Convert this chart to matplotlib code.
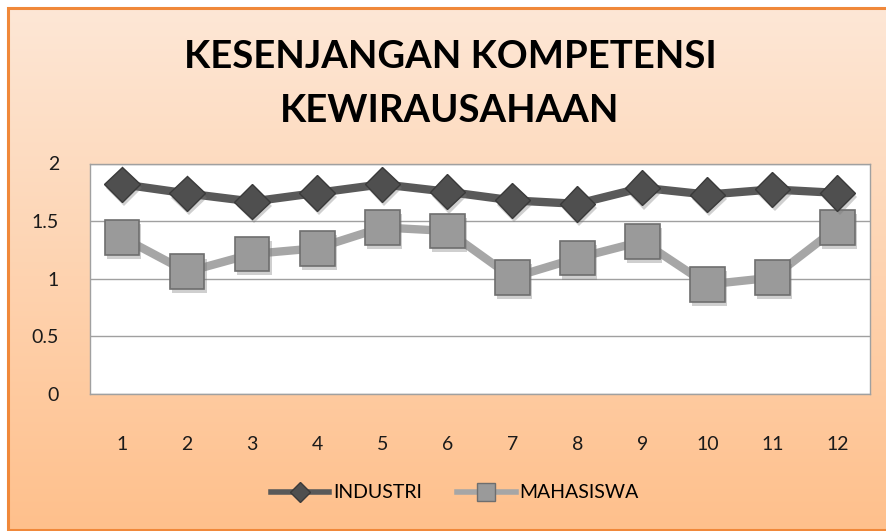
import numpy as np
import matplotlib
matplotlib.use("Agg")
import matplotlib.pyplot as plt
from matplotlib.lines import Line2D
import matplotlib.patheffects as pe

plt.rcParams['font.family'] = ['Lato', 'DejaVu Sans']

x = [1, 2, 3, 4, 5, 6, 7, 8, 9, 10, 11, 12]
industri = [1.82, 1.74, 1.67, 1.745, 1.82, 1.755, 1.68, 1.65, 1.79, 1.73, 1.775, 1.745]
mahasiswa = [1.36, 1.06, 1.215, 1.265, 1.445, 1.415, 1.01, 1.18, 1.325, 0.95, 1.01, 1.445]
series = ['INDUSTRI', 'MAHASISWA']
title = "KESENJANGAN KOMPETENSI\nKEWIRAUSAHAAN"

fig = plt.figure(figsize=(8.86, 5.31), dpi=100)
W, H = 886, 531

# background gradient inside the orange frame (frame runs off the right edge)
bg = fig.add_axes([0, 0, 1, 1], zorder=-10)
top = np.array([253, 231, 214]) / 255
bot = np.array([255, 192, 140]) / 255
t = np.linspace(0, 1, 256)[:, None]
grad = top * (1 - t) + bot * t
bg.imshow(np.repeat(grad[:, None, :], 4, axis=1), aspect='auto',
          extent=[8 / W, 1.1, 1 / H, 1 - 8 / H], interpolation='bilinear', clip_on=True)
fx0, fy0, fy1 = 8 / W, 1.5 / H, 1 - 8 / H
bg.plot([1.2, fx0, fx0, 1.2], [fy1, fy1, fy0, fy0], color='#F0883A', lw=2.2,
        solid_joinstyle='miter', clip_on=False)
bg.set_xlim(0, 1)
bg.set_ylim(0, 1)
bg.axis('off')

ax = fig.add_axes([89.5 / W, 1 - 394 / H, (870 - 89.5) / W, (394 - 163.5) / H])
ax.set_facecolor('white')
shadow = [pe.SimplePatchShadow(offset=(1.5, -3), shadow_rgbFace='#777777', alpha=0.35), pe.Normal()]

# lines
ax.plot(x, mahasiswa, color='#A6A6A6', lw=6, zorder=3)
ax.plot(x, industri, color='#595959', lw=6, zorder=5)
# markers
ax.plot(x, mahasiswa, ls='none', marker='s', ms=25, mfc='#9A9A9A', mec='#6E6E6E',
        mew=1.2, zorder=4, path_effects=shadow)
ax.plot(x, industri, ls='none', marker='D', ms=18, mfc='#4F4F4F', mec='#3A3A3A',
        mew=1.0, zorder=6, path_effects=shadow)

ax.set_xlim(0.5, 12.5)
ax.set_ylim(0, 2)
ax.set_xticks(x)
ax.set_yticks([0, 0.5, 1, 1.5, 2])
ax.set_yticklabels(['0', '0.5', '1', '1.5', '2'])
ax.grid(axis='y', color='#A0A0A0', lw=1)
ax.set_axisbelow(True)
for s in ax.spines.values():
    s.set_color('#A0A0A0')
    s.set_linewidth(1)
ax.tick_params(length=0, labelsize=14, colors='#1a1a1a')
ax.tick_params(axis='x', pad=30)
ax.tick_params(axis='y', pad=22)

fig.text(450 / W, 1 - 84 / H, title, ha='center', va='center', fontsize=27.5,
         fontweight='bold', linespacing=1.72, color='black')

handles = [
    Line2D([], [], color='#595959', lw=4, marker='D', ms=10, mfc='#4F4F4F', mec='#3A3A3A'),
    Line2D([], [], color='#A6A6A6', lw=4, marker='s', ms=13, mfc='#9A9A9A', mec='#6E6E6E'),
]
fig.legend(handles, series, loc='center', bbox_to_anchor=(455 / W, 1 - 493 / H),
           ncol=2, frameon=False, fontsize=14, handlelength=3.0, columnspacing=1.8,
           handletextpad=0.2)

fig.savefig('out.png', dpi=100)
